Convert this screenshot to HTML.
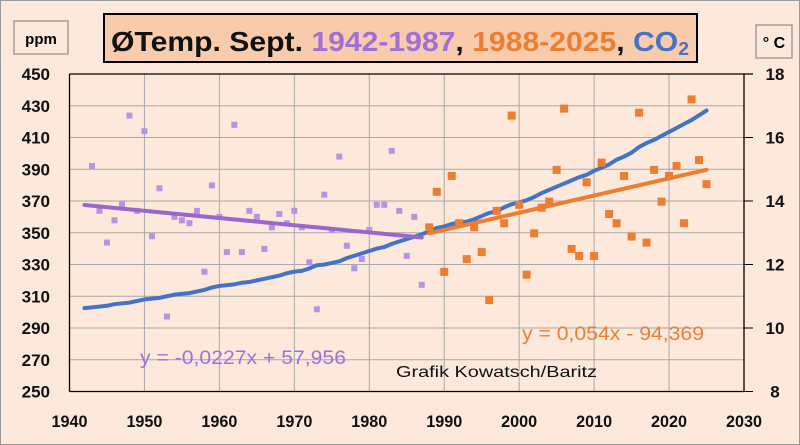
<!DOCTYPE html>
<html><head><meta charset="utf-8"><style>
body{margin:0;background:#fff}
svg{display:block;font-family:"Liberation Sans",sans-serif}
</style></head><body>
<svg id="c" width="800" height="445" viewBox="0 0 800 445">
<rect x="0.5" y="0.5" width="799" height="444" fill="#fde9dc" stroke="#9a9a9a"/>
<g id="grid"></g>
<g id="marks"></g>
<g id="axes"></g>
<rect x="104" y="14" width="593" height="48" fill="#f8cbad" stroke="#000" stroke-width="2"/>
<text x="111" y="51" font-size="28" font-weight="bold" textLength="578" lengthAdjust="spacingAndGlyphs"><tspan fill="#111">ØTemp. Sept. </tspan><tspan fill="#a070d8">1942-1987</tspan><tspan fill="#111">, </tspan><tspan fill="#ed7d31">1988-2025</tspan><tspan fill="#111">, </tspan><tspan fill="#4472c4">CO</tspan><tspan fill="#4472c4" font-size="18" dy="4">2</tspan></text>
<rect x="14" y="21" width="54" height="33" fill="#fde9dc" stroke="#a0a0a0" stroke-width="1.5"/>
<text x="41" y="44" font-size="15" font-weight="bold" text-anchor="middle">ppm</text>
<rect x="756" y="25" width="36" height="33" fill="#fde9dc" stroke="#a0a0a0" stroke-width="1.5"/>
<text x="774" y="48" font-size="16" font-weight="bold" text-anchor="middle">° C</text>
<text x="140" y="364" font-size="19" fill="#a070d8" textLength="206" lengthAdjust="spacingAndGlyphs">y = -0,0227x + 57,956</text>
<text x="522" y="340" font-size="19" fill="#ed7d31" textLength="182" lengthAdjust="spacingAndGlyphs">y = 0,054x - 94,369</text>
<text x="396" y="377" font-size="16" fill="#111" textLength="201" lengthAdjust="spacingAndGlyphs">Grafik Kowatsch/Baritz</text>
</svg>
<script>
const tempYearsEarly=[1943,1944,1945,1946,1947,1948,1949,1950,1951,1952,1953,1954,1955,1956,1957,1958,1959,1960,1961,1962,1963,1964,1965,1966,1967,1968,1969,1970,1971,1972,1973,1974,1975,1976,1977,1978,1979,1980,1981,1982,1983,1984,1985,1986,1987];
const tempEarly=[15.10,13.69,12.69,13.39,13.91,16.69,13.69,16.2,12.89,14.4,10.36,13.5,13.39,13.3,13.69,11.77,14.49,13.5,12.39,16.4,12.39,13.69,13.5,12.49,13.17,13.59,13.3,13.69,13.17,12.07,10.59,14.2,13.09,15.4,12.59,11.88,12.17,13.09,13.88,13.88,15.58,13.69,12.27,13.5,11.36];
const tempYearsLate=[1988,1989,1990,1991,1992,1993,1994,1995,1996,1997,1998,1999,2000,2001,2002,2003,2004,2005,2006,2007,2008,2009,2010,2011,2012,2013,2014,2015,2016,2017,2018,2019,2020,2021,2022,2023,2024,2025];
const tempLate=[13.17,14.29,11.77,14.79,13.3,12.17,13.17,12.39,10.88,13.69,13.3,16.69,13.88,11.68,12.98,13.79,13.98,14.98,16.91,12.49,12.27,14.59,12.27,15.21,13.59,13.3,14.79,12.88,16.78,12.69,14.98,13.98,14.79,15.1,13.3,17.2,15.29,14.53];
const co2Years=[1942,1943,1944,1945,1946,1947,1948,1949,1950,1951,1952,1953,1954,1955,1956,1957,1958,1959,1960,1961,1962,1963,1964,1965,1966,1967,1968,1969,1970,1971,1972,1973,1974,1975,1976,1977,1978,1979,1980,1981,1982,1983,1984,1985,1986,1987,1988,1989,1990,1991,1992,1993,1994,1995,1996,1997,1998,1999,2000,2001,2002,2003,2004,2005,2006,2007,2008,2009,2010,2011,2012,2013,2014,2015,2016,2017,2018,2019,2020,2021,2022,2023,2024,2025];
const co2=[302.5,303,303.5,304,305,305.5,306,307,308,308.5,309,310,311,311.5,312,313,314,315.5,316.5,317,317.5,318.5,319,320,321,322,323,324.5,325.5,326,327.5,329.5,330,331,332,334,335.5,337,338.5,340,341,343,344.5,346,347.5,349,351,353,354,355.5,356.5,357,358.5,360.5,362.5,363.5,366,368,369,370.5,372.5,375,377,379,381,383,385,386.5,389,391,393,396,398,400.5,404,406.5,408.5,411,413.5,416,418.5,421,424,427];
const trendEarly=[-0.0227,57.956,1942,1987];
const trendLate=[0.054,-94.369,1988,2025];
const xTicks=[1940,1950,1960,1970,1980,1990,2000,2010,2020,2030];
const ppmTicks=[250,270,290,310,330,350,370,390,410,430,450];
const tempTicks=[8,10,12,14,16,18];

const NS="http://www.w3.org/2000/svg";
const X0=69.5,X1=744,Y0=391.5,Y1=74;
function xs(v){return X0+(v-1940)/90*(X1-X0);}
function yp(v){return Y0-(v-250)/200*(Y0-Y1);}
function yt(v){return Y0-(v-8)/10*(Y0-Y1);}
function mk(tag,a,parent){const e=document.createElementNS(NS,tag);for(const k in a)e.setAttribute(k,a[k]);parent.appendChild(e);return e;}
const grid=document.getElementById('grid'),marks=document.getElementById('marks'),axes=document.getElementById('axes');

xTicks.forEach(t=>{
  if(t>1940&&t<2030){const l=mk('line',{x1:xs(t),x2:xs(t),y1:Y1,y2:Y0,stroke:'#a8a8a8','stroke-width':1},grid);
  
  }
  const tx=mk('text',{x:xs(t),y:427,'font-size':17,'font-weight':'bold','text-anchor':'middle',fill:'#111',textLength:36,lengthAdjust:'spacingAndGlyphs'},axes);
  tx.textContent=t;
  
  
});
ppmTicks.forEach(t=>{
  if(t>250&&t<450){const l=mk('line',{x1:X0,x2:X1,y1:yp(t),y2:yp(t),stroke:'#a8a8a8','stroke-width':1},grid);
  
  }
  const tx=mk('text',{x:50,y:yp(t)+6,'font-size':17,'font-weight':'bold','text-anchor':'end',fill:'#111'},axes);
  tx.textContent=t;
  
  
});
tempTicks.forEach(t=>{
  const l=mk('line',{x1:X1,x2:X1+9,y1:yt(t),y2:yt(t),stroke:'#000','stroke-width':1},axes);
  
  
  const tx=mk('text',{x:775,y:yt(t)+6,'font-size':17,'font-weight':'bold','text-anchor':'middle',fill:'#111'},axes);
  tx.textContent=t;
  
  
});
[[X0,Y1,X0,Y0],[X0,Y0,X1,Y0],[X0,Y1,X1+9,Y1],[X1,Y1,X1,Y0]].forEach(s=>{
  const l=mk('line',{x1:s[0],y1:s[1],x2:s[2],y2:s[3],stroke:'#000','stroke-width':1.3},axes);
  
  
});
// purple markers
tempYearsEarly.forEach((yr,i)=>{
  const r=mk('rect',{x:xs(yr)-3,y:yt(tempEarly[i])-3,width:6,height:6,fill:'#b395e3'},marks);
  
  
});
// co2 line
const cp=mk('polyline',{points:co2Years.map((y,i)=>xs(y)+','+yp(co2[i])).join(' '),fill:'none',stroke:'#4472c4','stroke-width':4,'stroke-linejoin':'round','stroke-linecap':'round'},marks);


// orange markers
tempYearsLate.forEach((yr,i)=>{
  const r=mk('rect',{x:xs(yr)-4,y:yt(tempLate[i])-4,width:8,height:8,fill:'#ed7d31'},marks);
  
  
});
// trends
const t1=mk('line',{x1:xs(trendEarly[2]),y1:yt(trendEarly[0]*trendEarly[2]+trendEarly[1]),x2:xs(trendEarly[3]),y2:yt(trendEarly[0]*trendEarly[3]+trendEarly[1]),stroke:'#9966cc','stroke-width':4,'stroke-linecap':'round'},marks);


const t2=mk('line',{x1:xs(trendLate[2]),y1:yt(trendLate[0]*trendLate[2]+trendLate[1]),x2:xs(trendLate[3]),y2:yt(trendLate[0]*trendLate[3]+trendLate[1]),stroke:'#ed7d31','stroke-width':4,'stroke-linecap':'round'},marks);


</script>
</body></html>
